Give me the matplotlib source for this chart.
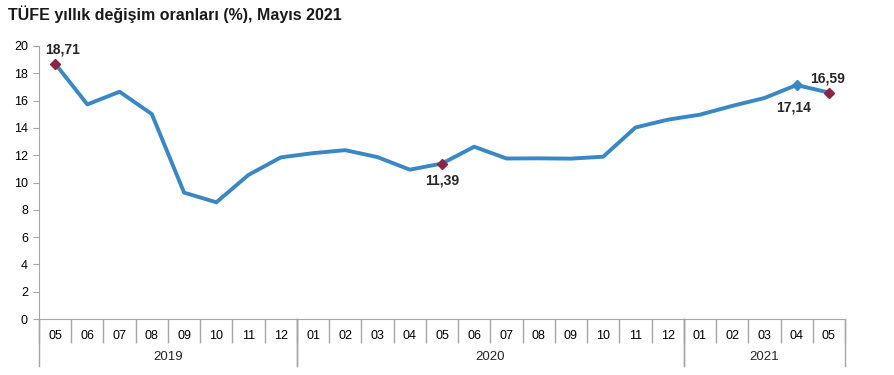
import matplotlib.pyplot as plt
import numpy as np

plt.rcParams['font.family'] = ['Liberation Sans', 'DejaVu Sans']

months = ['05', '06', '07', '08', '09', '10', '11', '12',
          '01', '02', '03', '04', '05', '06', '07', '08', '09', '10', '11', '12',
          '01', '02', '03', '04', '05']
years = ['2019', '2020', '2021']
year_counts = [8, 12, 5]
tufe = [18.71, 15.72, 16.65, 15.01, 9.26, 8.55, 10.56, 11.84,
        12.15, 12.37, 11.86, 10.94, 11.39, 12.62, 11.76, 11.77, 11.75, 11.89, 14.03, 14.60,
        14.97, 15.61, 16.19, 17.14, 16.59]
# label offsets in points (dx, dy, vertical alignment)
labeled = {0: (5, 5, 'bottom'), 12: (0, -7, 'top'), 23: (-2, -11, 'top'), 24: (-1, 5, 'bottom')}

line_col = '#3a87c6'
mark_col = '#8c2442'
grey = '#a6a6a6'

fig = plt.figure(figsize=(8.95, 3.75), dpi=100)
ax = fig.add_axes([39 / 895, 1 - 319 / 375, (845 - 39) / 895, (319 - 46) / 375])

x = np.arange(len(tufe))
ax.plot(x, tufe, color=line_col, lw=2.8, solid_joinstyle='round', zorder=2)
for i, (dx, dy, va) in labeled.items():
    c = line_col if i == 23 else mark_col
    ax.plot(x[i], tufe[i], marker='D', ms=5.5, color=c, zorder=3)
    txt = f'{tufe[i]:.2f}'.replace('.', ',')
    ax.annotate(txt, (x[i], tufe[i]), xytext=(dx, dy), textcoords='offset points',
                ha='center', va=va, fontsize=10, fontweight='bold', color='#262626')

ax.set_xlim(-0.5, len(tufe) - 0.5)
ax.set_ylim(0, 20)
ax.set_yticks(range(0, 21, 2))
ax.tick_params(axis='y', direction='out', length=4, color=grey, labelsize=9, pad=4)

ax.set_xticks(x)
ax.set_xticklabels(months)
ax.set_xticks(np.arange(-0.5, len(tufe), 1), minor=True)
ax.tick_params(axis='x', which='major', length=0, labelsize=9, pad=8)
ax.tick_params(axis='x', which='minor', length=17, color=grey, width=1)

for s in ['top', 'right']:
    ax.spines[s].set_visible(False)
ax.spines['left'].set_color(grey)
ax.spines['bottom'].set_color(grey)

# year group separators and labels
trans = ax.get_xaxis_transform()
start = -0.5
for yr, n in zip(years, year_counts):
    end = start + n
    for b in (start, end):
        ax.plot([b, b], [0, -47 / 273], transform=trans, color=grey, lw=1, clip_on=False)
    ax.text((start + end) / 2, -38 / 273, yr, transform=trans, ha='center', va='center',
            fontsize=9.5, color='#262626')
    start = end

fig.text(8 / 895, 1 - 14 / 375, 'TÜFE yıllık değişim oranları (%), Mayıs 2021',
         ha='left', va='center', fontsize=11.5, fontweight='bold', color='#1a1a1a')

fig.savefig('out.png', dpi=100)
